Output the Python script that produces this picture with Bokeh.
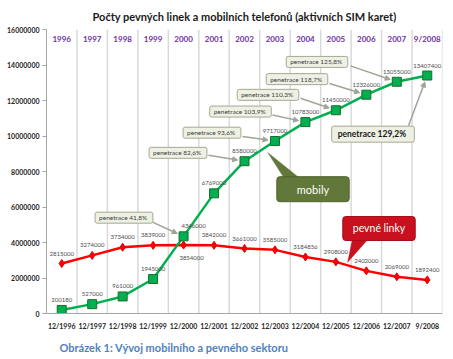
from bokeh.plotting import figure
from bokeh.models import (ColumnDataSource, Range1d, FactorRange, FixedTicker, NumeralTickFormatter,
                          Span, Label, Arrow, NormalHead, PolyAnnotation, Title)
from bokeh.embed import file_html
from bokeh.resources import INLINE
from bokeh.core.properties import value

# ---- data ----
categories = ["12/1996", "12/1997", "12/1998", "12/1999", "12/2000", "12/2001", "12/2002",
              "12/2003", "12/2004", "12/2005", "12/2006", "12/2007", "9/2008"]
year_labels = ["1996", "1997", "1998", "1999", "2000", "2001", "2002", "2003", "2004",
               "2005", "2006", "2007", "9/2008"]
mobily = [200180, 527000, 961000, 1945000, 4346000, 6769000, 8580000, 9717000,
          10783000, 11450000, 12326000, 13055000, 13407400]
pevne_linky = [2815000, 3274000, 3734000, 3839000, 3854000, 3842000, 3661000, 3585000,
               3184856, 2908000, 2402000, 2069000, 1892400]
penetrace_idx = [4, 6, 7, 8, 9, 10, 11, 12]
penetrace_txt = ["41,8%", "82,6%", "93,6%", "103,9%", "110,3%", "118,7%", "125,8%", "129,2%"]
y_ticks = [0, 2000000, 4000000, 6000000, 8000000, 10000000, 12000000, 14000000, 16000000]
title_text = "Počty pevných linek a mobilních telefonů (aktivních SIM karet)"
caption_text = "Obrázek 1: Vývoj mobilního a pevného sektoru"

# ---- layout helpers (pixel -> data coords) ----
W, H = 453, 359
PX0, PX1, PY0, PY1 = 46, 442, 314, 25
N = len(categories)
YMAX = 16000000
def dx(px):
    return (px - PX0) / (PX1 - PX0) * N
def dy(py):
    return (PY0 - py) / (PY0 - PY1) * YMAX
def px_of(i):
    return PX0 + (i + 0.5) * (PX1 - PX0) / N
def py_of(v):
    return PY0 - v / YMAX * (PY0 - PY1)

FONT = "Lato"

p = figure(width=W, height=H, x_range=FactorRange(*categories), y_range=Range1d(0, YMAX),
           output_backend="svg", toolbar_location=None,
           min_border_left=PX0, min_border_right=W - PX1,
           min_border_top=PY1, min_border_bottom=H - PY0)
p.outline_line_color = None
p.grid.grid_line_color = None
p.background_fill_color = "white"

# title & caption
p.title.text = title_text
p.title.align = "center"
p.title.offset = 0
p.title.standoff = 14
p.title.text_font = FONT
p.title.text_font_size = "11px"
p.title.text_font_style = "bold"
p.title.text_color = "#1a1a1a"

cap = Title(text=caption_text, align="left", offset=13, standoff=12,
            text_font=FONT, text_font_size="11px", text_font_style="bold",
            text_color="#4f81bd")
p.add_layout(cap, "below")

# axes
p.yaxis.ticker = FixedTicker(ticks=y_ticks)
p.yaxis.formatter = NumeralTickFormatter(format="0")
p.yaxis.major_label_text_font = FONT
p.yaxis.major_label_text_font_size = "7px"
p.yaxis.major_label_text_font_style = "bold"
p.yaxis.major_label_text_color = "#262626"
p.yaxis.axis_line_color = "#a6a6a6"
p.yaxis.major_tick_line_color = "#a6a6a6"
p.yaxis.major_tick_out = 4
p.yaxis.major_tick_in = 0
p.yaxis.minor_tick_line_color = None
p.yaxis.major_label_standoff = 3

p.xaxis.major_label_text_font = FONT
p.xaxis.major_label_text_font_size = "7px"
p.xaxis.major_label_text_font_style = "bold"
p.xaxis.major_label_text_color = "#262626"
p.xaxis.axis_line_color = "#a6a6a6"
p.xaxis.major_tick_line_color = None
p.xaxis.major_tick_out = 0
p.xaxis.major_label_standoff = 8

# vertical gridlines at category boundaries
for i in range(1, N + 1):
    p.add_layout(Span(location=i, dimension="height", line_color="#d9d9d9", line_width=1.5,
                      level="underlay"))

# year labels inside top of plot
p.text(x=categories, y=[dy(35)] * N, text=year_labels, text_align="center",
       text_baseline="middle", text_font=value(FONT), text_font_size="8px",
       text_font_style="bold", text_color="#7030a0")

# series
src = ColumnDataSource(dict(x=categories, m=mobily, f=pevne_linky,
                            ml=[str(v) for v in mobily], fl=[str(v) for v in pevne_linky]))
p.line("x", "f", source=src, line_color="#ff0000", line_width=2.5)
p.scatter("x", "f", source=src, marker="diamond", size=8, fill_color="#ff0000",
          line_color="#e00000")
p.line("x", "m", source=src, line_color="#00b050", line_width=2.5)
p.scatter("x", "m", source=src, marker="square", size=9, fill_color="#00b050",
          line_color="#1d6b2e", line_width=1)

# data labels
m_xoff = [0] * N
m_yoff = [-10] * N
f_xoff = [0] * N
f_yoff = [-10] * N
m_xoff[4], m_yoff[4] = 10, -10
f_xoff[4], f_yoff[4] = 8, 13
src.data["mxo"] = m_xoff
src.data["myo"] = m_yoff
src.data["fxo"] = f_xoff
src.data["fyo"] = f_yoff
p.text("x", "m", text="ml", source=src, x_offset="mxo", y_offset="myo", text_align="center",
       text_baseline="middle", text_font=value(FONT), text_font_size="6px", text_color="#4d4d4d")
p.text("x", "f", text="fl", source=src, x_offset="fxo", y_offset="fyo", text_align="center",
       text_baseline="middle", text_font=value(FONT), text_font_size="6px", text_color="#4d4d4d")

# penetration callouts
box_pos = [(123.5, 216.5), (177.5, 150.5), (211.5, 130), (240, 108.5), (267.5, 91.5),
           (296.5, 75.5), (316.5, 58), (372.5, 131.5)]
arrow_start = [(152, 221), (208, 153), (242, 134), (272, 112), (300, 95), (329, 80),
               (350, 62), (408, 123)]
for k, (idx, txt) in enumerate(zip(penetrace_idx, penetrace_txt)):
    big = (k == len(penetrace_idx) - 1)
    bx, by = box_pos[k]
    sx, sy = arrow_start[k]
    tx, ty = px_of(idx), py_of(mobily[idx])
    ddx, ddy = tx - sx, ty - sy
    L = (ddx ** 2 + ddy ** 2) ** 0.5
    ex, ey = tx - ddx / L * 7, ty - ddy / L * 7
    p.add_layout(Arrow(x_start=dx(sx), y_start=dy(sy), x_end=dx(ex), y_end=dy(ey),
                       line_color="#a0a496", line_width=1.5,
                       end=NormalHead(size=5, fill_color="#a0a496", line_color="#a0a496")))
    p.add_layout(Label(x=dx(bx), y=dy(by), text="penetrace  " + txt, text_align="center",
                       text_baseline="middle", text_font=FONT,
                       text_font_size="8.5px" if big else "6.5px",
                       text_font_style="bold" if big else "normal",
                       text_color="#1a1a1a" if big else "#404040",
                       background_fill_color="#eef0e4", border_line_color="#a3a994",
                       border_line_width=1, padding=(6, 3) if big else (4, 2), border_radius=2))

# "mobily" bubble
p.add_layout(PolyAnnotation(xs=[dx(284), dx(300), dx(267)], ys=[dy(177), dy(177), dy(150)],
                            fill_color="#62773a", fill_alpha=1, line_color="#62773a"))
p.add_layout(Label(x=dx(312.5), y=dy(187.5), text="mobily", text_align="center",
                   text_baseline="middle", text_font=FONT, text_font_size="11px",
                   text_color="white", background_fill_color="#62773a",
                   border_line_color="#4f6230", padding=(20, 6), border_radius=3))

# "pevné linky" bubble
p.add_layout(PolyAnnotation(xs=[dx(352), dx(368), dx(347)], ys=[dy(238), dy(238), dy(262)],
                            fill_color="#c8101e", fill_alpha=1, line_color="#c8101e"))
p.add_layout(Label(x=dx(378.5), y=dy(227.5), text="pevné linky", text_align="center",
                   text_baseline="middle", text_font=FONT, text_font_size="10.5px",
                   text_color="white", background_fill_color="#c8101e",
                   border_line_color="#a50d18", padding=(10, 6), border_radius=3))

open("out.html", "w").write(file_html(p, INLINE))
